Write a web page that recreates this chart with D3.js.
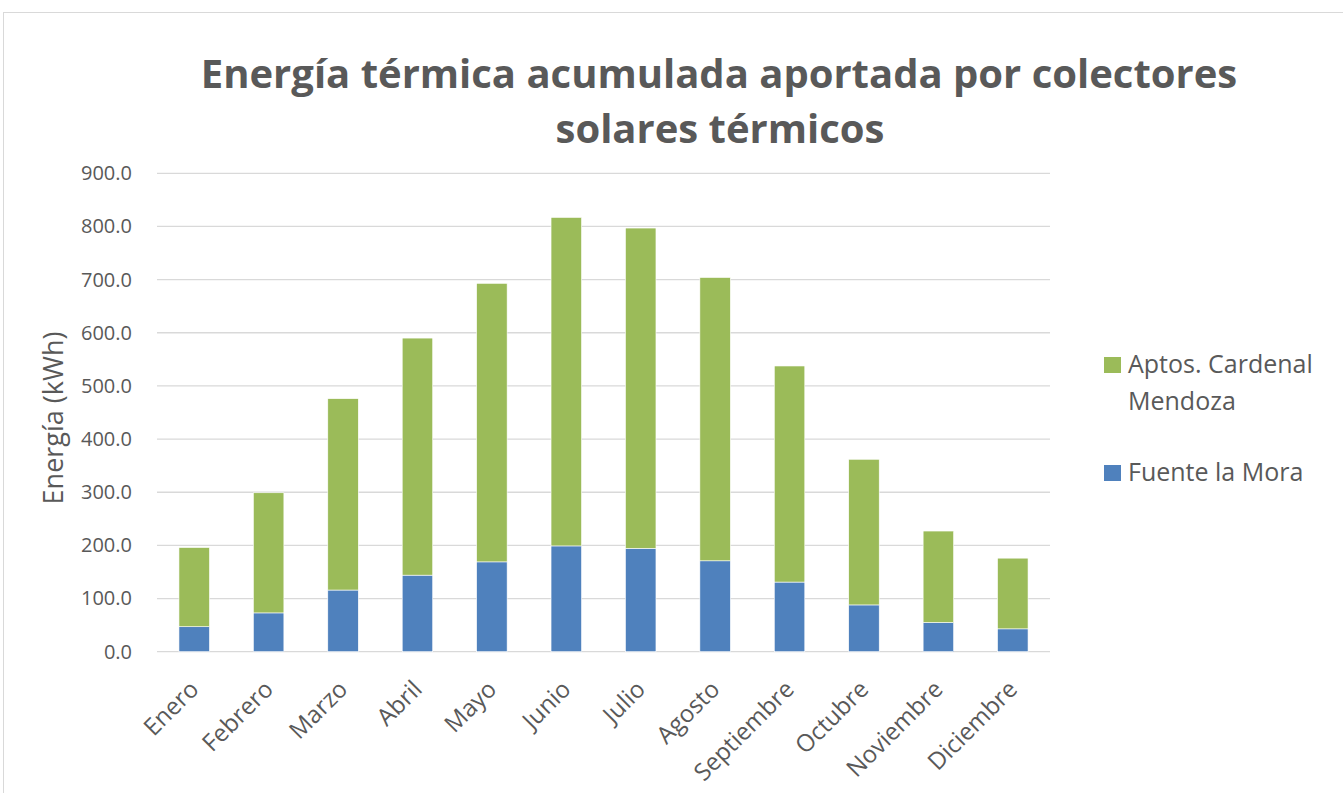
<!DOCTYPE html>
<html>
<head>
<meta charset="utf-8">
<script src="https://cdn.jsdelivr.net/npm/d3@7"></script>
<style>
  body { margin: 0; background: #fff; }
  svg { display: block; font-family: "Open Sans", "Noto Sans", sans-serif; }
</style>
</head>
<body>
<div id="chart"></div>
<script>
const width = 1343;
const height = 793;

// data
const months = ["Enero", "Febrero", "Marzo", "Abril", "Mayo", "Junio", "Julio", "Agosto", "Septiembre", "Octubre", "Noviembre", "Diciembre"];
const fuenteLaMora = [47, 73, 116, 144, 169, 199, 194.5, 171, 131, 88, 55, 43];
const aptosCardenal = [149, 226, 360, 446, 524, 618, 602.5, 533, 406.5, 274, 172, 133];
const yTicks = [0, 100, 200, 300, 400, 500, 600, 700, 800, 900];
const seriesNames = ["Fuente la Mora", "Aptos. Cardenal Mendoza"];
const seriesColors = ["#4f81bd", "#9bbb59"];

const plot = { left: 157, right: 1050, top: 173.3, bottom: 651.7 };
const textColor = "#595959";

const svg = d3.select("#chart")
  .append("svg")
  .attr("width", width)
  .attr("height", height);

// chart area border (only top and left show in the frame)
svg.append("rect")
  .attr("x", 3.5)
  .attr("y", 12.5)
  .attr("width", width + 10)
  .attr("height", height + 10)
  .attr("fill", "#fff")
  .attr("stroke", "#d9d9d9")
  .attr("stroke-width", 1);

const x = d3.scaleBand()
  .domain(months)
  .range([plot.left, plot.right])
  .paddingInner(0.59)
  .paddingOuter(0.295);

const y = d3.scaleLinear()
  .domain([0, 900])
  .range([plot.bottom, plot.top]);

// gridlines
svg.append("g")
  .selectAll("line")
  .data(yTicks)
  .join("line")
  .attr("x1", plot.left)
  .attr("x2", plot.right)
  .attr("y1", (d) => y(d))
  .attr("y2", (d) => y(d))
  .attr("stroke", "#d9d9d9")
  .attr("stroke-width", 1.3);

// stacked bars
const rows = months.map((m, i) => ({ month: m, a: fuenteLaMora[i], b: aptosCardenal[i] }));
const stacked = d3.stack().keys(["a", "b"])(rows);

svg.append("g")
  .selectAll("g")
  .data(stacked)
  .join("g")
  .attr("fill", (d, i) => seriesColors[i])
  .selectAll("rect")
  .data((d) => d)
  .join("rect")
  .attr("x", (d) => x(d.data.month))
  .attr("y", (d) => y(d[1]))
  .attr("width", x.bandwidth())
  .attr("height", (d) => y(d[0]) - y(d[1]))
  .attr("stroke", "#fff")
  .attr("stroke-width", 0.6);

// y axis labels
const yAxis = d3.axisLeft(y)
  .tickValues(yTicks)
  .tickFormat(d3.format(".1f"))
  .tickSize(0)
  .tickPadding(25);

svg.append("g")
  .attr("transform", `translate(${plot.left},0)`)
  .call(yAxis)
  .call((g) => g.select(".domain").remove())
  .selectAll("text")
  .attr("fill", textColor)
  .attr("font-size", 20)
  .attr("font-family", "Open Sans, sans-serif");

// x axis labels, rotated like the original
const xAxis = d3.axisBottom(x).tickSize(0).tickPadding(0);

svg.append("g")
  .attr("transform", `translate(0,${plot.bottom})`)
  .call(xAxis)
  .call((g) => g.select(".domain").remove())
  .selectAll("text")
  .attr("fill", textColor)
  .attr("font-size", 24)
  .attr("font-family", "Open Sans, sans-serif")
  .attr("text-anchor", "end")
  .attr("dy", null)
  .attr("y", 0)
  .attr("transform", "translate(6,39) rotate(-45)");

// y axis title
svg.append("text")
  .attr("transform", `translate(63,418) rotate(-90)`)
  .attr("text-anchor", "middle")
  .attr("fill", textColor)
  .attr("font-size", 27)
  .text("Energía (kWh)");

// title
const title = svg.append("text")
  .attr("text-anchor", "middle")
  .attr("fill", textColor)
  .attr("font-weight", "bold")
  .attr("font-size", 40)
  .attr("font-family", "Open Sans, sans-serif");

title.append("tspan").attr("x", 719).attr("y", 88).text("Energía térmica acumulada aportada por colectores");
title.append("tspan").attr("x", 720).attr("y", 143).text("solares térmicos");

// legend
const legendItems = [
  { color: seriesColors[1], lines: ["Aptos. Cardenal", "Mendoza"], y: 357 },
  { color: seriesColors[0], lines: ["Fuente la Mora"], y: 465 }
];

const legend = svg.append("g");
const item = legend.selectAll("g")
  .data(legendItems)
  .join("g")
  .attr("transform", (d) => `translate(1104,${d.y})`);

item.append("rect")
  .attr("x", 0)
  .attr("y", 0)
  .attr("width", 17)
  .attr("height", 16)
  .attr("fill", (d) => d.color);

item.append("text")
  .attr("fill", textColor)
  .attr("font-size", 25)
  .selectAll("tspan")
  .data((d) => d.lines)
  .join("tspan")
  .attr("x", 24)
  .attr("y", (d, i) => 16 + i * 37)
  .text((d) => d);
</script>
</body>
</html>
